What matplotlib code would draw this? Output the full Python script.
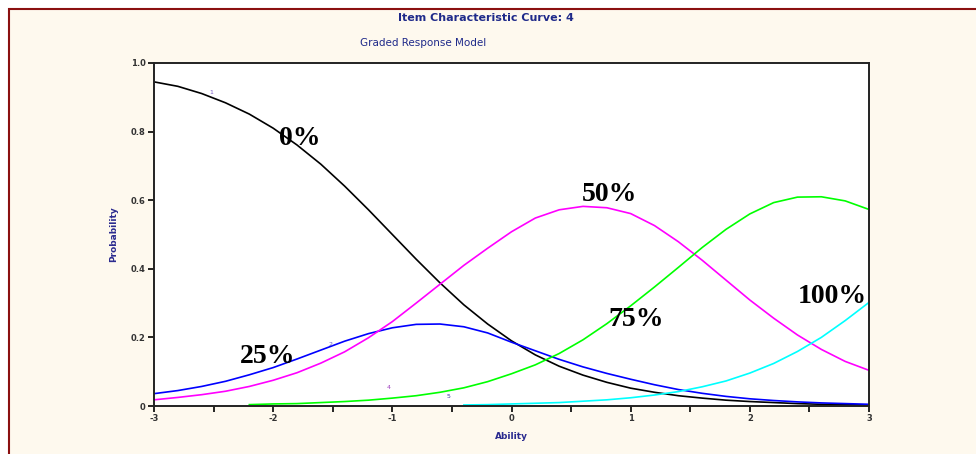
import numpy as np
import matplotlib
matplotlib.use('Agg')
import matplotlib.pyplot as plt
from matplotlib.patches import Rectangle

# ability grid and category response curves
theta = [-3.0, -2.8, -2.6, -2.4, -2.2, -2.0, -1.8, -1.6, -1.4, -1.2, -1.0,
         -0.8, -0.6, -0.4, -0.2, 0.0, 0.2, 0.4, 0.6, 0.8, 1.0,
         1.2, 1.4, 1.6, 1.8, 2.0, 2.2, 2.4, 2.6, 2.8, 3.0]
nan = float('nan')
cat1 = [0.945, 0.932, 0.911, 0.884, 0.851, 0.810, 0.761, 0.705, 0.641, 0.572, 0.500,
        0.428, 0.359, 0.295, 0.239, 0.190, 0.149, 0.116, 0.090, 0.069, 0.052,
        0.040, 0.030, 0.023, 0.017, 0.013, 0.010, 0.007, 0.005, 0.004, 0.003]
cat2 = [0.036, 0.045, 0.057, 0.072, 0.091, 0.112, 0.137, 0.163, 0.189, 0.211, 0.228,
        0.238, 0.239, 0.231, 0.213, 0.186, 0.161, 0.136, 0.114, 0.095, 0.078,
        0.062, 0.048, 0.037, 0.028, 0.021, 0.016, 0.012, 0.009, 0.007, 0.005]
cat3 = [0.018, 0.025, 0.033, 0.043, 0.057, 0.075, 0.097, 0.125, 0.158, 0.199, 0.246,
        0.300, 0.355, 0.410, 0.460, 0.508, 0.548, 0.572, 0.582, 0.578, 0.561,
        0.526, 0.479, 0.425, 0.367, 0.309, 0.256, 0.207, 0.165, 0.130, 0.104]
cat4 = [nan, nan, nan, nan, 0.004, 0.006, 0.007, 0.010, 0.013, 0.017, 0.023,
        0.030, 0.040, 0.053, 0.071, 0.094, 0.120, 0.153, 0.193, 0.240, 0.292,
        0.347, 0.404, 0.462, 0.515, 0.560, 0.593, 0.609, 0.610, 0.598, 0.573]
cat5 = [nan, nan, nan, nan, nan, nan, nan, nan, nan, nan, nan,
        nan, nan, 0.003, 0.004, 0.006, 0.008, 0.010, 0.014, 0.018, 0.024,
        0.032, 0.042, 0.056, 0.073, 0.096, 0.124, 0.159, 0.200, 0.249, 0.302]
curves = [cat1, cat2, cat3, cat4, cat5]
colors = ['black', '#0000ff', '#ff00ff', '#00ff00', '#00ffff']

xticks = [-3, -2, -1, 0, 1, 2, 3]
xminor = [-2.5, -1.5, -0.5, 0.5, 1.5, 2.5]
yticks = [0, 0.2, 0.4, 0.6, 0.8, 1.0]
ytick_labels = ['0', '0.2', '0.4', '0.6', '0.8', '1.0']

pct_labels = ['0%', '25%', '50%', '75%', '100%']
pct_x = [-1.78, -2.05, 0.82, 1.05, 2.69]
pct_y = [0.78, 0.143, 0.618, 0.251, 0.318]

num_labels = ['1', '2', '4', '5']
num_x = [-2.52, -1.52, -1.03, -0.53]
num_y = [0.915, 0.18, 0.055, 0.028]
num_colors = ['#7a5cc8', '#5a5ac8', '#a040c0', '#3a3aa0']

fig = plt.figure(figsize=(9.76, 4.54), dpi=100, facecolor='white')
# cream panel with dark red frame
fig.patches.append(Rectangle((8.5 / 976, -0.1), 1.2, (446 / 454) + 0.1 - 0.5 / 454,
                             transform=fig.transFigure, facecolor='#fef9ee',
                             edgecolor='#8b1010', lw=1.5, zorder=-5))

ax = fig.add_axes([154 / 976, 48 / 454, 715 / 976, 343 / 454])
ax.set_zorder(1)
ax.set_facecolor('white')
for y, c in zip(curves, colors):
    ax.plot(theta, y, color=c, lw=1.2)

ax.set_xlim(-3, 3)
ax.set_ylim(0, 1.0)
ax.set_xticks(xticks)
ax.set_xticklabels([str(v) for v in xticks])
ax.set_xticks(xminor, minor=True)
ax.set_yticks(yticks)
ax.set_yticklabels(ytick_labels)
ax.tick_params(which='both', direction='out', length=4, width=1.2,
               labelsize=6, labelcolor='#333333', pad=2)
for lab in ax.get_xticklabels() + ax.get_yticklabels():
    lab.set_fontweight('bold')
for s in ax.spines.values():
    s.set_linewidth(1.4)
    s.set_color('#222222')

ax.set_xlabel('Ability', fontsize=6.5, color='#2b2b8f', fontweight='bold', labelpad=6)
ax.set_ylabel('Probability', fontsize=6.5, color='#2b2b8f', fontweight='bold', labelpad=9)

for t, x, y in zip(pct_labels, pct_x, pct_y):
    ax.text(x, y, t, fontsize=20, fontweight='bold', family='Liberation Serif',
            ha='center', va='center', color='black', clip_on=False)
for t, x, y, c in zip(num_labels, num_x, num_y, num_colors):
    ax.text(x, y, t, fontsize=4.5, color=c, ha='center', va='center')

fig.text(486 / 976, 1 - 18 / 454, 'Item Characteristic Curve: 4', fontsize=8,
         fontweight='bold', color='#1f2a8a', ha='center', va='center')
fig.text(360 / 976, 1 - 43 / 454, 'Graded Response Model', fontsize=7.5,
         color='#1f2a8a', ha='left', va='center')

fig.savefig('out.png', dpi=100, facecolor='white')
